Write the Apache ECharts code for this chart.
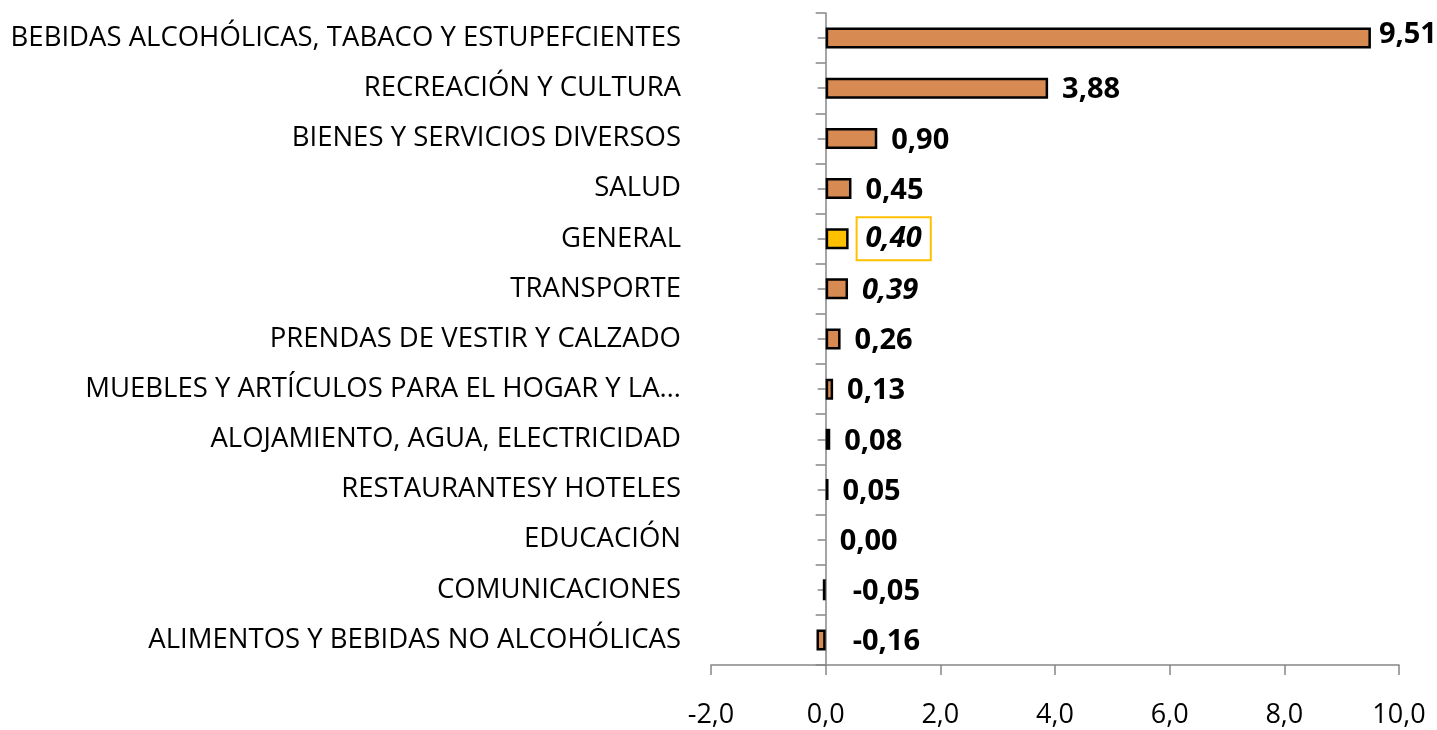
<!DOCTYPE html>
<html>
<head>
<meta charset="utf-8">
<script src="https://cdn.jsdelivr.net/npm/echarts@6/dist/echarts.min.js"></script>
<style>
  html, body { margin: 0; padding: 0; background: #fff; }
  #chart { width: 1437px; height: 730px; }
</style>
</head>
<body>
<div id="chart"></div>
<script>
// categorias de arriba hacia abajo
const categories = [
  'BEBIDAS ALCOHÓLICAS, TABACO Y ESTUPEFCIENTES',
  'RECREACIÓN Y CULTURA',
  'BIENES Y SERVICIOS DIVERSOS',
  'SALUD',
  'GENERAL',
  'TRANSPORTE',
  'PRENDAS DE VESTIR Y CALZADO',
  'MUEBLES Y ARTÍCULOS PARA EL HOGAR Y LA…',
  'ALOJAMIENTO, AGUA, ELECTRICIDAD',
  'RESTAURANTESY HOTELES',
  'EDUCACIÓN',
  'COMUNICACIONES',
  'ALIMENTOS Y BEBIDAS NO ALCOHÓLICAS'
];
const values = [9.51, 3.88, 0.90, 0.45, 0.40, 0.39, 0.26, 0.13, 0.08, 0.05, 0.00, -0.05, -0.16];
const highlightCat = 'GENERAL';
const italicCats = ['GENERAL', 'TRANSPORTE'];
const xTicks = [-2, 0, 2, 4, 6, 8, 10];

const fontFam = '"Open Sans", sans-serif';
const axisGray = '#868686';
const fmt = v => v.toFixed(2).replace('.', ',');
const maxVal = Math.max.apply(null, values);

// medidas del area de dibujo
const gridLeft = 711, gridRight = 38, chartW = 1437;
const xMin = xTicks[0], xMax = xTicks[xTicks.length - 1];
// desplazamiento del eje vertical hasta el cero
const zeroShift = (0 - xMin) / (xMax - xMin) * (chartW - gridLeft - gridRight);

let chart = echarts.init(document.getElementById('chart'));

let barData = values.map(function (v, i) {
  let item = { value: v, label: {} };
  let cat = categories[i];
  if (cat === highlightCat) {
    item.itemStyle = { color: '#FFC000' };
    item.label = { borderColor: '#FFC000', borderWidth: 2, padding: [8, 9, 6, 9], distance: 8, offset: [0, 0] };
  }
  if (italicCats.indexOf(cat) >= 0) {
    item.label.fontStyle = 'italic';
  }
  if (v === 0) {
    item.itemStyle = { borderWidth: 0 };
  }
  if (v < 0) {
    // la etiqueta queda a la derecha del eje
    item.label.distance = 27;
  }
  if (v === maxVal) {
    item.label.distance = 8;
    item.label.offset = [0, -3];
  }
  return item;
});

let catAxisBase = {
  type: 'category',
  data: categories,
  inverse: true,
  position: 'left',
  splitLine: { show: false }
};

chart.setOption({
  animation: false,
  grid: { left: gridLeft, right: gridRight, top: 13, bottom: 65, containLabel: false },
  xAxis: {
    type: 'value',
    min: xMin,
    max: xMax,
    interval: 2,
    axisLine: { show: true, lineStyle: { color: axisGray, width: 1.5 } },
    axisTick: { show: true, length: 10, lineStyle: { color: axisGray, width: 1.5 } },
    axisLabel: {
      margin: 37,
      fontSize: 27,
      fontFamily: fontFam,
      color: '#000',
      formatter: v => v.toFixed(1).replace('.', ',')
    },
    splitLine: { show: false }
  },
  yAxis: [
    Object.assign({}, catAxisBase, {
      // etiquetas en el borde izquierdo del area
      axisLine: { show: false, onZero: false },
      axisTick: { show: false },
      axisLabel: { margin: 30, fontSize: 27.5, fontFamily: fontFam, color: '#000' }
    }),
    Object.assign({}, catAxisBase, {
      offset: -zeroShift,
      axisLine: { show: true, onZero: false, lineStyle: { color: axisGray, width: 1.5 } },
      axisTick: { show: true, length: 10, lineStyle: { color: axisGray, width: 1.5 } },
      axisLabel: { show: false }
    }),
    Object.assign({}, catAxisBase, {
      offset: -zeroShift,
      axisLine: { show: false, onZero: false },
      axisTick: { show: true, alignWithLabel: true, length: 8, lineStyle: { color: axisGray, width: 1.5 } },
      axisLabel: { show: false }
    })
  ],
  series: [{
    type: 'bar',
    yAxisIndex: 0,
    data: barData,
    barWidth: 21,
    itemStyle: { color: '#D78B53', borderColor: '#000', borderWidth: 2.5 },
    label: {
      show: true,
      position: 'right',
      distance: 14,
      offset: [0, 2],
      fontSize: 29,
      fontWeight: 'bold',
      fontFamily: fontFam,
      color: '#000',
      formatter: p => fmt(p.value)
    }
  }]
});
</script>
</body>
</html>
